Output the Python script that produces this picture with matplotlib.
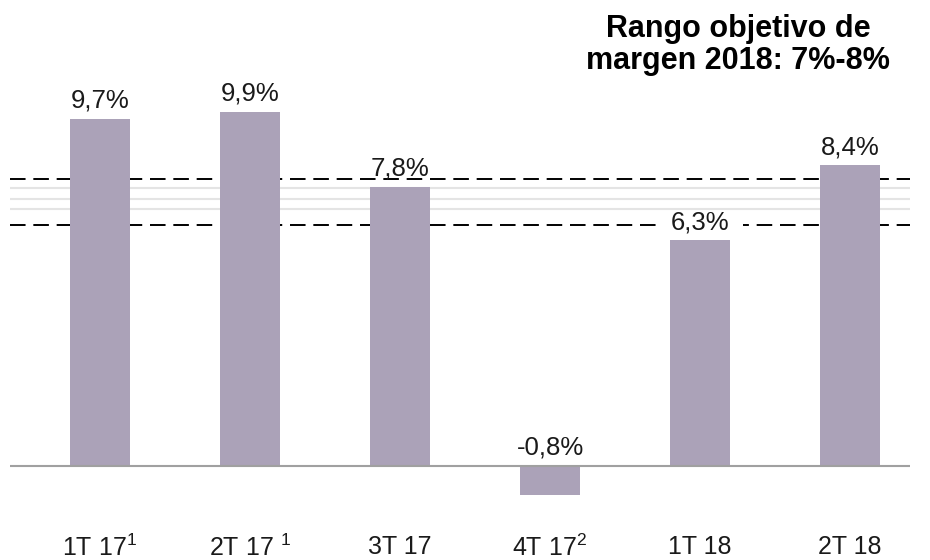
import matplotlib
matplotlib.use("Agg")
import matplotlib.pyplot as plt

plt.rcParams['font.family'] = ['Liberation Sans', 'DejaVu Sans']
plt.rcParams['mathtext.fontset'] = 'custom'
plt.rcParams['mathtext.rm'] = 'Liberation Sans'
plt.rcParams['mathtext.it'] = 'Liberation Sans'

categories = ["1T 17$^1$", "2T 17 $^1$", "3T 17", "4T 17$^2$", "1T 18", "2T 18"]
values = [9.7, 9.9, 7.8, -0.8, 6.3, 8.4]
value_labels = ["9,7%", "9,9%", "7,8%", "-0,8%", "6,3%", "8,4%"]
label_bg = [False, False, False, False, True, False]
target_dashed = [8.03, 6.74]
target_grid = [7.77, 7.47, 7.19]
title = "Rango objetivo de\nmargen 2018: 7%-8%"

fig = plt.figure(figsize=(9.3, 5.6), dpi=100)
ax = fig.add_axes([10/930, 0, 900/930, 1])
ax.set_xlim(-0.6, 5.4)
ax.set_ylim(-2.63, 13.02)
ax.axis('off')

for g in target_grid:
    ax.axhline(g, color='#e4e4e4', lw=1.5, zorder=2.5)
for d in target_dashed:
    ax.axhline(d, color='black', lw=1.4, ls=(0, (8, 4)), zorder=1)

x = list(range(len(values)))
ax.bar(x, values, width=0.4, color='#aba2b8', zorder=3)
ax.axhline(0, color='#a0a0a0', lw=1.5, zorder=4)

for xi, v, lab, bg in zip(x, values, value_labels, label_bg):
    base = max(v, 0)
    kw = {}
    if bg:
        kw['bbox'] = dict(facecolor='white', edgecolor='none', pad=10)
    ax.annotate(lab, (xi, base), xytext=(0, 8), textcoords='offset points',
                ha='center', va='baseline', fontsize=18.5, color='#1a1a1a', zorder=2, **kw)

for xi, c in zip(x, categories):
    ax.text(xi, -2.28, c, ha='center', va='center', fontsize=18, color='#1a1a1a')

fig.text(738/930, 1 - 45/560, title, ha='center', va='center', fontsize=22,
         fontweight='bold', linespacing=1.1, color='black')

fig.savefig('out.png', dpi=100)
